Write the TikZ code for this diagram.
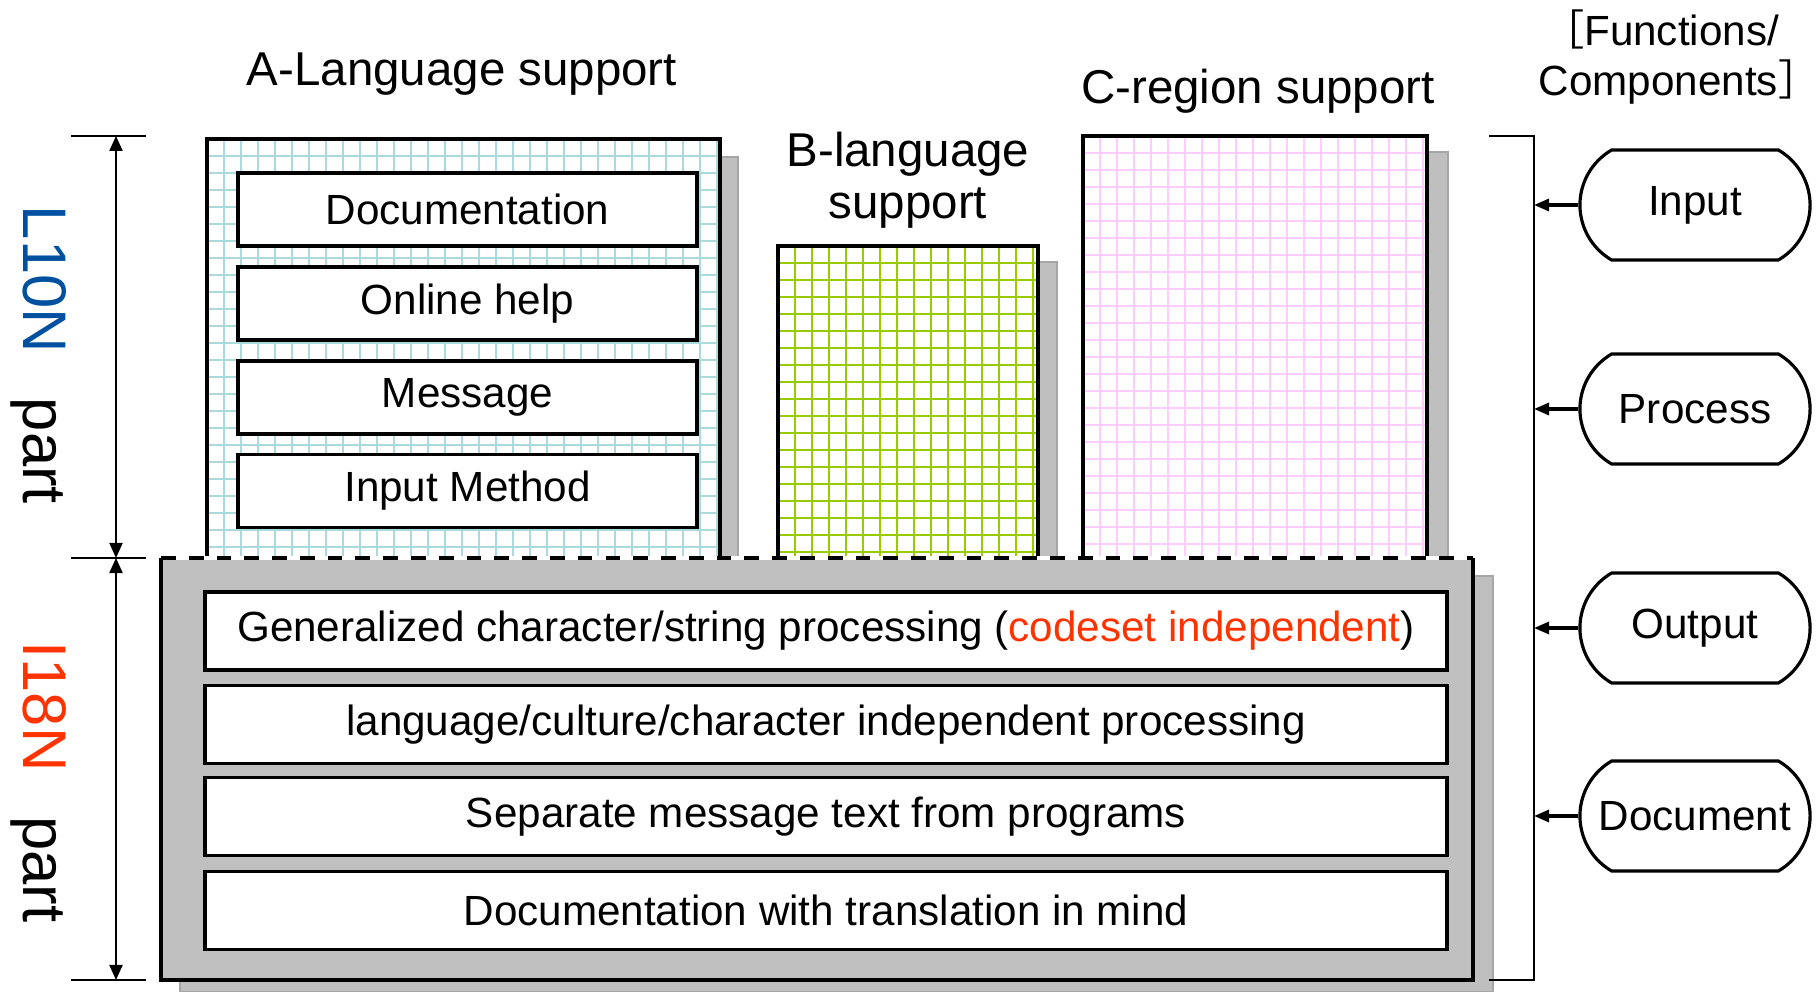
\documentclass[tikz,border=0pt]{standalone}
\usepackage{fontspec}
\setmainfont{Liberation Sans}
\newfontfamily\cjk{Noto Sans CJK SC}
\usetikzlibrary{arrows.meta,shapes.misc}
\definecolor{shadowgray}{RGB}{191,191,191}
\definecolor{shadowline}{RGB}{166,166,166}
\definecolor{basegray}{RGB}{192,192,192}
\definecolor{gridcyan}{RGB}{170,218,220}
\definecolor{gridgreen}{RGB}{153,204,0}
\definecolor{gridpink}{RGB}{255,204,255}
\definecolor{locblue}{RGB}{0,80,160}
\definecolor{intred}{RGB}{255,51,0}

\begin{document}
\begin{tikzpicture}[x=0.01cm,y=-0.01cm,
  shadow/.style={fill=shadowgray,draw=shadowline,line width=0.5pt},
  region/.style={draw=black,line width=1.2pt},
  item/.style={draw=black,fill=white,line width=1.1pt,inner sep=0pt,
    font=\fontsize{12}{14}\selectfont},
  title/.style={font=\fontsize{13.5}{14.8}\selectfont,align=center},
  func/.style={rounded rectangle,rounded rectangle arc length=120,draw=black,
    line width=0.9pt,fill=white,minimum width=2.3cm,minimum height=1.1cm,
    inner sep=0pt,font=\fontsize{12}{14}\selectfont},
  dim/.style={line width=0.6pt},
  dimarrow/.style={dim,{Triangle[length=0.15cm,width=0.13cm]}-{Triangle[length=0.15cm,width=0.13cm]}},
  feed/.style={line width=0.9pt,-{Triangle[length=0.15cm,width=0.12cm]}},
  side/.style={rotate=-90,anchor=base,font=\fontsize{17.5}{20}\selectfont}]
\useasboundingbox (0,0) rectangle (1818,992);

% shadows of the three regions
\draw[shadow] (225,157) rectangle (738,576);
\draw[shadow] (796,262) rectangle (1057,576);
\draw[shadow] (1101,152) rectangle (1448,576);

% A-language region
\fill[white] (207,139) rectangle (720,558);
\foreach \gx in {224,241,...,720} \draw[gridcyan,line width=0.45pt] (\gx,139) -- (\gx,558);
\foreach \gy in {156,173,...,558} \draw[gridcyan,line width=0.45pt] (207,\gy) -- (720,\gy);
\draw[region] (207,558) -- (207,139) -- (720,139) -- (720,558);

% B-language region
\fill[white] (778,246) rectangle (1038,558);
\foreach \gx in {795,812,...,1038} \draw[gridgreen,line width=0.7pt] (\gx,246) -- (\gx,558);
\foreach \gy in {263,280,...,558} \draw[gridgreen,line width=0.7pt] (778,\gy) -- (1038,\gy);
\draw[region] (778,558) -- (778,246) -- (1038,246) -- (1038,558);

% C-region
\fill[white] (1083,136) rectangle (1427,558);
\foreach \gx in {1100,1117,...,1427} \draw[gridpink,line width=0.45pt] (\gx,136) -- (\gx,558);
\foreach \gy in {153,170,...,558} \draw[gridpink,line width=0.45pt] (1083,\gy) -- (1427,\gy);
\draw[region] (1083,558) -- (1083,136) -- (1427,136) -- (1427,558);

\node[title] (atitle) at (462,74) {A-Language support};
\node[title] (btitle) at (908,180) {B-language\\support};
\node[title] (ctitle) at (1258,91) {C-region support};

\node[item,minimum width=4.59cm,minimum height=0.73cm] (doc) at (467.5,209.5) {Documentation};
\node[item,minimum width=4.59cm,minimum height=0.73cm] (help) at (467.5,303.5) {Online help};
\node[item,minimum width=4.59cm,minimum height=0.73cm] (msg) at (467.5,397.5) {Message};
\node[item,minimum width=4.59cm,minimum height=0.73cm] (im) at (467.5,491) {Input Method};

% I18N base
\draw[shadow] (180,576) rectangle (1493,992);
\fill[basegray] (161,558) rectangle (1473,980);
\draw[region] (161,558) -- (161,980) -- (1473,980) -- (1473,558);
\draw[white,line width=1.2pt] (161,558) -- (1473,558);
\draw[black,line width=1.2pt,dash pattern=on 4.2pt off 3.7pt] (161,558) -- (1473,558);

\node[item,minimum width=12.42cm,minimum height=0.78cm] (gen) at (826,631)
  {Generalized character/string processing (\textcolor{intred}{codeset independent})};
\node[item,minimum width=12.42cm,minimum height=0.78cm] (lang) at (826,724.5)
  {language/culture/character independent processing};
\node[item,minimum width=12.42cm,minimum height=0.78cm] (sep) at (826,816.5)
  {Separate message text from programs};
\node[item,minimum width=12.42cm,minimum height=0.78cm] (trans) at (826,910.5)
  {Documentation with translation in mind};

% dimension lines on the left
\coordinate (dtop) at (116,136);
\coordinate (dmid) at (116,558);
\coordinate (dbot) at (116,980);
\draw[dim] (71,136) -- (146,136) (71,558) -- (146,558) (71,980) -- (146,980);
\draw[dimarrow] (dtop) -- (dmid);
\draw[dimarrow] (dmid) -- (dbot);
\node[side] (l10n) at (23,355) {\textcolor{locblue}{L10N}\hspace{0.73em}part};
\node[side] (i18n) at (23,782) {\textcolor{intred}{I18N}\hspace{0.73em}part};

% functions / components
\node[font=\fontsize{12}{14.2}\selectfont,align=center,inner sep=0pt] (functitle) at (1670,57)
  {\makebox[0.55em][r]{\cjk ［}Functions/\\Components\makebox[0.55em][l]{\cjk ］}};
\coordinate (brtop) at (1534,136);
\coordinate (brbot) at (1534,980);
\draw[dim] (1489,136) -- (brtop) -- (brbot) -- (1489,980);
\node[func] (input) at (1695,205) {Input};
\node[func] (process) at (1695,409) {Process};
\node[func] (output) at (1695,628) {Output};
\node[func] (document) at (1695,816) {Document};
\draw[feed] (input.west) -- (input.west -| brtop);
\draw[feed] (process.west) -- (process.west -| brtop);
\draw[feed] (output.west) -- (output.west -| brtop);
\draw[feed] (document.west) -- (document.west -| brtop);

\end{tikzpicture}
\end{document}
